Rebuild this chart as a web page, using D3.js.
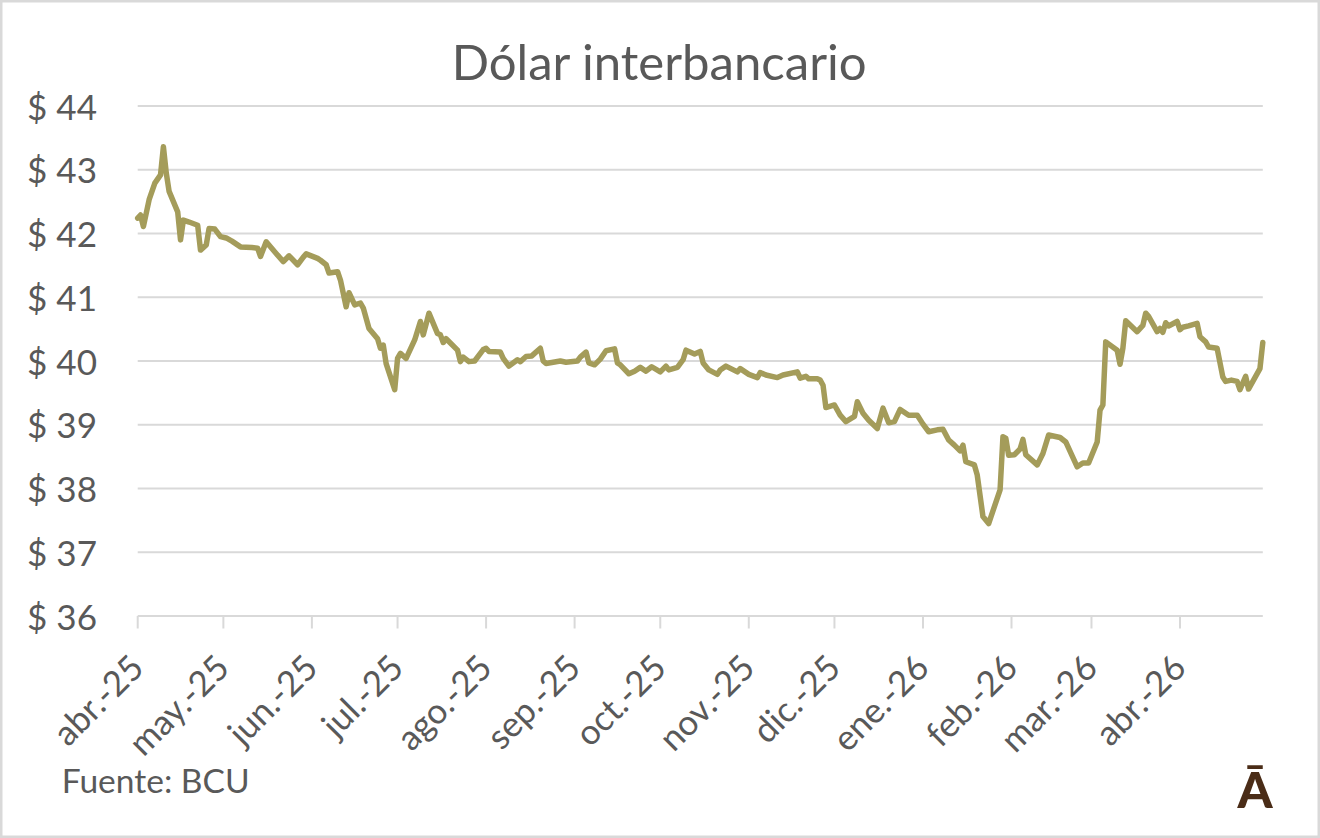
<!DOCTYPE html>
<html>
<head>
<meta charset="utf-8">
<script src="https://cdn.jsdelivr.net/npm/d3@7/dist/d3.min.js"></script>
<style>
  html, body { margin: 0; padding: 0; background: #fff; }
  svg { display: block; }
  text { font-family: Lato, "Open Sans", sans-serif; fill: #595959; }
</style>
</head>
<body>
<svg id="chart" width="1320" height="838"></svg>
<script>
const title = "Dólar interbancario";
const source = "Fuente: BCU";
const yTicks = [36, 37, 38, 39, 40, 41, 42, 43, 44];
const yTickLabels = ["$ 36", "$ 37", "$ 38", "$ 39", "$ 40", "$ 41", "$ 42", "$ 43", "$ 44"];
const monthTicks = ["2025-04-01","2025-05-01","2025-06-01","2025-07-01","2025-08-01","2025-09-01","2025-10-01","2025-11-01","2025-12-01","2026-01-01","2026-02-01","2026-03-01","2026-04-01"];
const monthLabels = ["abr.-25","may.-25","jun.-25","jul.-25","ago.-25","sep.-25","oct.-25","nov.-25","dic.-25","ene.-26","feb.-26","mar.-26","abr.-26"];

const dates = [
"2025-04-01","2025-04-02","2025-04-03","2025-04-05","2025-04-07","2025-04-09","2025-04-10","2025-04-11","2025-04-12","2025-04-15",
"2025-04-16","2025-04-17","2025-04-19","2025-04-22","2025-04-23","2025-04-25","2025-04-26","2025-04-28","2025-04-30",
"2025-05-02","2025-05-04","2025-05-07","2025-05-11","2025-05-13","2025-05-14","2025-05-16","2025-05-20","2025-05-22","2025-05-24",
"2025-05-27","2025-05-29","2025-05-30",
"2025-06-03","2025-06-04","2025-06-06","2025-06-07","2025-06-10","2025-06-11","2025-06-13","2025-06-14","2025-06-16","2025-06-18",
"2025-06-19","2025-06-21","2025-06-24","2025-06-25","2025-06-26","2025-06-27","2025-06-30",
"2025-07-01","2025-07-02","2025-07-04","2025-07-07","2025-07-09","2025-07-10","2025-07-12","2025-07-15","2025-07-16","2025-07-17",
"2025-07-18","2025-07-22","2025-07-23","2025-07-24","2025-07-26","2025-07-28","2025-07-31",
"2025-08-01","2025-08-02","2025-08-06","2025-08-07","2025-08-09","2025-08-12","2025-08-13","2025-08-15","2025-08-17","2025-08-20",
"2025-08-21","2025-08-22","2025-08-27","2025-08-29",
"2025-09-02","2025-09-03","2025-09-05","2025-09-06","2025-09-08","2025-09-10","2025-09-12","2025-09-15","2025-09-16","2025-09-17",
"2025-09-20","2025-09-22","2025-09-24","2025-09-26","2025-09-28",
"2025-10-01","2025-10-03","2025-10-04","2025-10-07","2025-10-09","2025-10-10","2025-10-13","2025-10-15","2025-10-16","2025-10-18",
"2025-10-21","2025-10-22","2025-10-24","2025-10-28","2025-10-29",
"2025-11-01","2025-11-04","2025-11-05","2025-11-07","2025-11-11","2025-11-13","2025-11-18","2025-11-19","2025-11-21","2025-11-22",
"2025-11-25","2025-11-26","2025-11-27","2025-11-28",
"2025-12-01","2025-12-03","2025-12-05","2025-12-08","2025-12-09","2025-12-11","2025-12-13","2025-12-16","2025-12-18","2025-12-20",
"2025-12-22","2025-12-24","2025-12-27","2025-12-30",
"2026-01-01","2026-01-03","2026-01-06","2026-01-08","2026-01-10","2026-01-12","2026-01-14","2026-01-15","2026-01-16","2026-01-19",
"2026-01-20","2026-01-22","2026-01-24","2026-01-28","2026-01-29","2026-01-30","2026-01-31",
"2026-02-02","2026-02-04","2026-02-05","2026-02-06","2026-02-10","2026-02-12","2026-02-14","2026-02-18","2026-02-20","2026-02-24",
"2026-02-26","2026-02-28",
"2026-03-03","2026-03-04","2026-03-05","2026-03-06","2026-03-10","2026-03-11","2026-03-12","2026-03-13","2026-03-17","2026-03-19",
"2026-03-20","2026-03-21","2026-03-24","2026-03-25","2026-03-26","2026-03-27","2026-03-28","2026-03-31",
"2026-04-01","2026-04-02","2026-04-04","2026-04-07","2026-04-08","2026-04-10","2026-04-11","2026-04-14","2026-04-16","2026-04-17",
"2026-04-19","2026-04-21","2026-04-22","2026-04-24","2026-04-25","2026-04-29","2026-04-30"
];
const values = [
42.24,42.29,42.11,42.53,42.79,42.92,43.36,42.95,42.66,42.34,
41.90,42.21,42.18,42.13,41.74,41.82,42.08,42.07,41.95,
41.93,41.88,41.79,41.78,41.77,41.64,41.87,41.66,41.56,41.65,
41.51,41.63,41.68,
41.61,41.58,41.51,41.38,41.40,41.27,40.85,41.07,40.88,40.91,
40.83,40.51,40.35,40.20,40.25,39.96,39.55,
40.04,40.12,40.04,40.33,40.62,40.41,40.75,40.43,40.41,40.29,
40.35,40.17,39.99,40.06,39.99,40.00,40.18,
40.20,40.15,40.14,40.04,39.92,40.02,39.99,40.07,40.08,40.20,
40.00,39.96,40.00,39.98,
40.00,40.06,40.14,39.97,39.94,40.03,40.16,40.19,39.97,39.94,
39.80,39.84,39.90,39.84,39.91,
39.83,39.92,39.86,39.90,40.02,40.17,40.11,40.15,39.97,39.86,
39.79,39.86,39.92,39.83,39.88,
39.79,39.74,39.82,39.78,39.74,39.78,39.83,39.73,39.76,39.72,
39.72,39.70,39.62,39.27,
39.31,39.15,39.05,39.13,39.36,39.18,39.07,38.94,39.26,39.03,
39.05,39.24,39.15,39.15,
39.01,38.89,38.92,38.93,38.76,38.68,38.59,38.68,38.42,38.37,
38.21,37.56,37.45,37.98,38.81,38.79,38.52,
38.53,38.62,38.77,38.53,38.37,38.55,38.84,38.80,38.73,38.34,
38.40,38.40,
38.73,39.23,39.31,40.30,40.17,39.95,40.20,40.63,40.46,40.56,
40.75,40.70,40.46,40.51,40.45,40.60,40.55,40.62,
40.49,40.53,40.55,40.59,40.38,40.30,40.22,40.20,39.75,39.68,
39.70,39.68,39.55,39.76,39.56,39.88,40.29
];

const parse = d3.utcParse("%Y-%m-%d");
const data = dates.map((d, i) => ({ date: parse(d), value: values[i] }));

const svg = d3.select("#chart");
const W = 1320, H = 838;

// outer frame
svg.append("rect")
  .attr("x", 1.25).attr("y", 1.25)
  .attr("width", W - 2.5).attr("height", H - 2.5)
  .attr("fill", "#fff").attr("stroke", "#d9d9d9").attr("stroke-width", 2.5);

const x = d3.scaleUtc()
  .domain([parse("2025-04-01"), parse("2026-04-30")])
  .range([137.7, 1262.8]);
const y = d3.scaleLinear().domain([36, 44]).range([616, 106]);

function fitWidth(sel, target) {
  const node = sel.node();
  const fs = parseFloat(sel.attr("font-size"));
  const w = node.getComputedTextLength();
  if (w > 0) sel.attr("font-size", (fs * target / w).toFixed(2));
  return sel;
}

// gridlines
svg.append("g").selectAll("line")
  .data(yTicks)
  .join("line")
  .attr("x1", x.range()[0]).attr("x2", x.range()[1])
  .attr("y1", d => y(d)).attr("y2", d => y(d))
  .attr("stroke", "#d9d9d9").attr("stroke-width", 2);

// y labels
const yl = svg.append("g").selectAll("text")
  .data(yTicks)
  .join("text")
  .attr("x", 97)
  .attr("y", d => y(d) + 13.5)
  .attr("text-anchor", "end")
  .attr("font-size", 38)
  .text((d, i) => yTickLabels[i]);
{
  const first = d3.select(yl.nodes()[yl.size() - 1]);
  const w = first.node().getComputedTextLength();
  const fs = 38 * 70 / w;
  yl.attr("font-size", fs.toFixed(2));
}

// x axis ticks
const tickDates = monthTicks.map(parse);
svg.append("g").selectAll("line")
  .data(tickDates)
  .join("line")
  .attr("x1", d => x(d)).attr("x2", d => x(d))
  .attr("y1", 616).attr("y2", 628.5)
  .attr("stroke", "#d9d9d9").attr("stroke-width", 2);

// x labels
const xl = svg.append("g").selectAll("text")
  .data(tickDates)
  .join("text")
  .attr("text-anchor", "end")
  .attr("transform", d => `translate(${x(d) + 8},670) rotate(-45)`)
  .attr("font-size", 38)
  .text((d, i) => monthLabels[i]);
{
  const w = xl.nodes()[0].getComputedTextLength();
  xl.attr("font-size", (38 * 110 / w).toFixed(2));
}

// line
const line = d3.line()
  .x(d => x(d.date))
  .y(d => y(d.value))
  .curve(d3.curveLinear);
svg.append("path")
  .datum(data)
  .attr("d", line)
  .attr("fill", "none")
  .attr("stroke", "#a49c5a")
  .attr("stroke-width", 5.5)
  .attr("stroke-linejoin", "round")
  .attr("stroke-linecap", "round");

// title
const t = svg.append("text")
  .attr("x", 659.2).attr("y", 80)
  .attr("text-anchor", "middle")
  .attr("font-size", 52)
  .text(title);
fitWidth(t, 415);

// source
const s = svg.append("text")
  .attr("x", 61.7).attr("y", 792.5)
  .attr("font-size", 37)
  .text(source);
fitWidth(s, 188);

// logo
svg.append("text")
  .attr("x", 1255).attr("y", 808)
  .attr("text-anchor", "middle")
  .attr("font-size", 50)
  .attr("font-weight", 900)
  .style("fill", "#4a2c17")
  .text("Ā");
</script>
</body>
</html>
